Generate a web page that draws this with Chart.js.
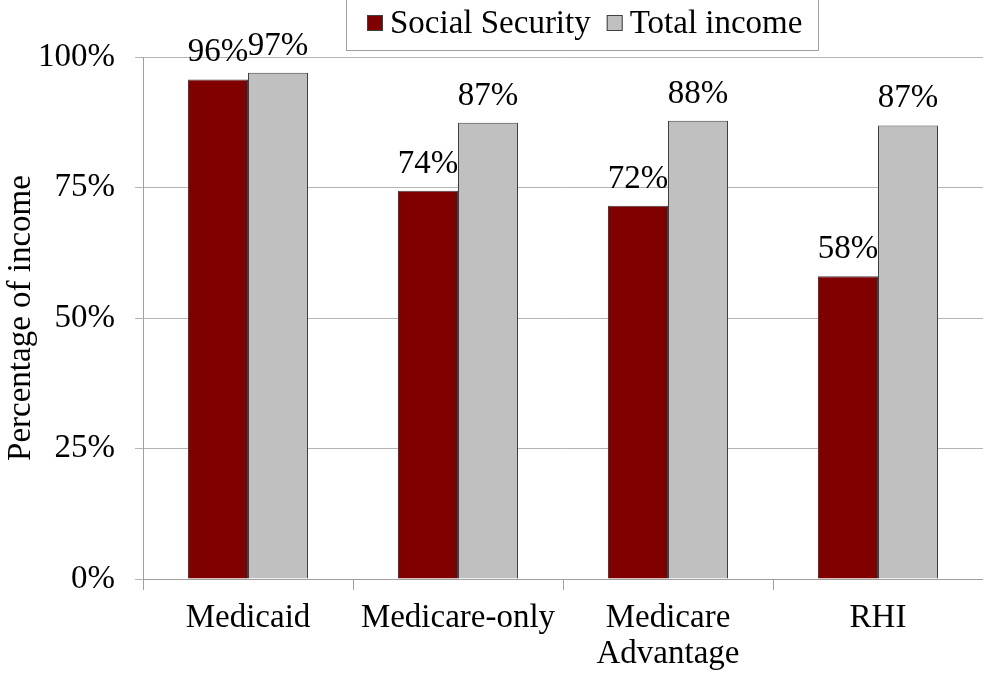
<!DOCTYPE html>
<html>
<head>
<meta charset="utf-8">
<script src="https://cdn.jsdelivr.net/npm/chart.js@4/dist/chart.umd.min.js"></script>
<style>
html,body{margin:0;padding:0;background:#fff;}
#wrap{width:983px;height:673px;position:relative;}
</style>
</head>
<body>
<div id="wrap"><canvas id="c" width="983" height="673"></canvas></div>
<script>
const categories = ["Medicaid", "Medicare-only", ["Medicare", "Advantage"], "RHI"];
const socialSecurity = [95.7, 74.4, 71.5, 58.0];
const totalIncome = [97.0, 87.4, 87.8, 86.9];
const seriesNames = ["Social Security", "Total income"];
const yTicks = [0, 25, 50, 75, 100];

const FONT = "'Liberation Serif', 'Times New Roman', serif";
const FS = 33;

const valueLabels = {
  id: 'valueLabels',
  afterDatasetsDraw(chart) {
    const ctx = chart.ctx;
    ctx.save();
    ctx.font = FS + 'px ' + FONT;
    ctx.fillStyle = '#000';
    ctx.textAlign = 'center';
    ctx.textBaseline = 'alphabetic';
    chart.data.datasets.forEach((ds, di) => {
      chart.getDatasetMeta(di).data.forEach((bar, i) => {
        ctx.fillText(Math.round(ds.data[i]) + '%', bar.x, bar.y - 18);
      });
    });
    ctx.restore();
  }
};

const boxLegend = {
  id: 'boxLegend',
  afterDraw(chart) {
    const ctx = chart.ctx;
    ctx.save();
    ctx.font = FS + 'px ' + FONT;
    const sw = 16, gapSw = 7, gapItem = 16, padX = 21;
    const items = chart.data.datasets.map(ds => ({
      label: ds.label, color: ds.backgroundColor, w: ctx.measureText(ds.label).width
    }));
    const left = 346, top = -2, h = 52, width = 472;
    ctx.strokeStyle = '#a0a0a0';
    ctx.lineWidth = 1;
    ctx.strokeRect(left + 0.5, top + 0.5, width, h);
    let x = left + padX;
    const cy = 23;
    items.forEach((it, i) => {
      if (i) x += gapItem;
      ctx.fillStyle = it.color;
      ctx.fillRect(x, cy - sw / 2, sw, sw);
      ctx.strokeStyle = '#404040';
      ctx.strokeRect(x + 0.5, cy - sw / 2 + 0.5, sw - 1, sw - 1);
      x += sw + gapSw;
      ctx.fillStyle = '#000';
      ctx.textBaseline = 'middle';
      ctx.textAlign = 'left';
      ctx.fillText(it.label, x, cy + 1);
      x += it.w;
    });
    ctx.restore();
  }
};

new Chart(document.getElementById('c'), {
  type: 'bar',
  data: {
    labels: categories,
    datasets: [
      { label: seriesNames[0], data: socialSecurity, backgroundColor: '#800000', borderColor: '#404040', borderWidth: 1 },
      { label: seriesNames[1], data: totalIncome, backgroundColor: '#c0c0c0', borderColor: '#404040', borderWidth: 1 }
    ]
  },
  options: {
    responsive: false,
    animation: false,
    layout: { padding: { top: 57, right: 0, bottom: 0, left: 0 } },
    datasets: { bar: { categoryPercentage: 120 / 210, barPercentage: 1 } },
    plugins: {
      legend: { display: false },
      tooltip: { enabled: false }
    },
    scales: {
      x: {
        grid: { offset: true, drawOnChartArea: false, drawTicks: true, tickLength: 11, color: '#a0a0a0' },
        border: { color: '#a0a0a0' },
        ticks: { font: { family: FONT, size: FS, lineHeight: 1.07 }, color: '#000', padding: 11, maxRotation: 0, autoSkip: false },
        afterFit(s) { s.height = 94; }
      },
      y: {
        min: 0, max: 100,
        afterBuildTicks(s) { s.ticks = yTicks.map(v => ({ value: v })); },
        grid: { color: '#b4b4b4', tickLength: 8 },
        border: { color: '#a0a0a0' },
        ticks: { font: { family: FONT, size: FS }, color: '#000', padding: 20, callback: v => v + '%' },
        title: { display: true, text: 'Percentage of income', font: { family: FONT, size: FS }, color: '#000', padding: { top: 2, bottom: 0 } },
        afterFit(s) { s.width = 143; }
      }
    }
  },
  plugins: [valueLabels, boxLegend]
});
</script>
</body>
</html>
